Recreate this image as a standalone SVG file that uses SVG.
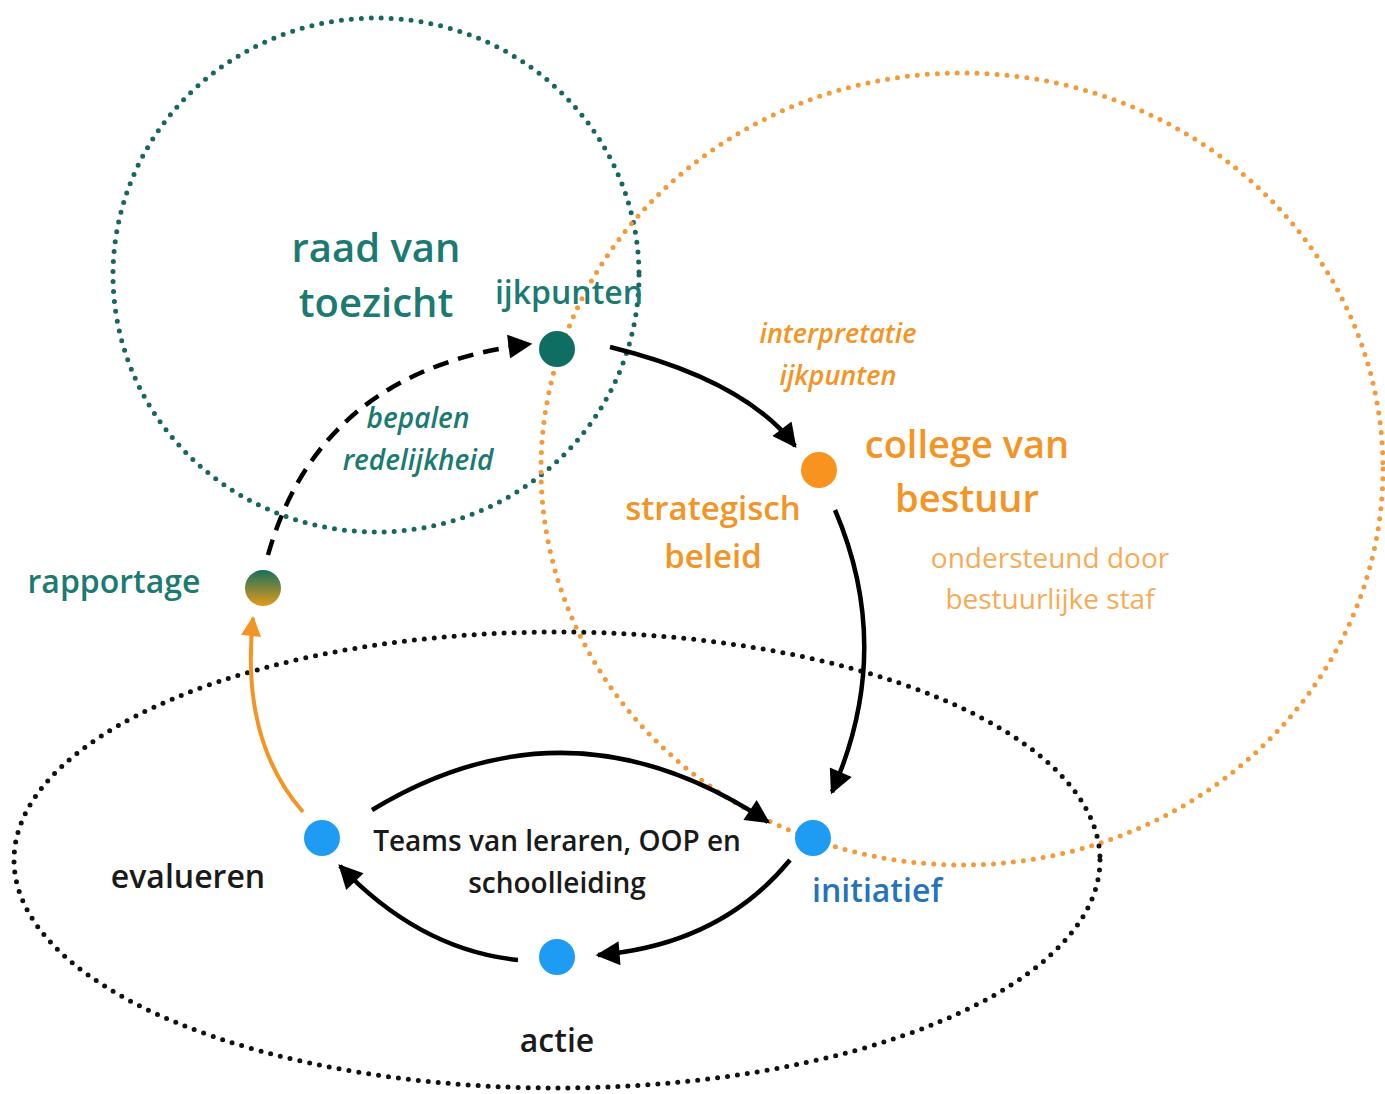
<svg xmlns="http://www.w3.org/2000/svg" width="1385" height="1094" viewBox="0 0 1385 1094">
<style>
text{font-family:"Open Sans","Noto Sans","Liberation Sans",sans-serif;font-weight:600}
.teal{fill:#1b7a71}
.org{fill:#f39424}
.lorg{fill:#f6ab55;font-weight:500}
.blk{fill:#1a1a1a}
.it{font-style:italic}
.ring{fill:none;stroke-width:5;stroke-linecap:round;stroke-dasharray:0 10}
.conn{fill:none;stroke:#000;stroke-width:4.5}
</style>
<defs>
<marker id="ah" viewBox="0 0 10 10" refX="9" refY="5" markerWidth="27" markerHeight="24" markerUnits="userSpaceOnUse" orient="auto">
<path d="M0 0 L10 5 L0 10 Z" fill="#000"/>
</marker>
<marker id="aho" viewBox="0 0 10 10" refX="9" refY="5" markerWidth="22" markerHeight="20" markerUnits="userSpaceOnUse" orient="auto">
<path d="M0 0 L10 5 L0 10 Z" fill="#f39424"/>
</marker>
<linearGradient id="grad" x1="0" y1="0" x2="0" y2="1">
<stop offset="0" stop-color="#14705f"/>
<stop offset="1" stop-color="#e69a1a"/>
</linearGradient>
</defs>
<rect width="1385" height="1094" fill="#fff"/>
<g id="regions">
<ellipse class="ring" cx="376" cy="275" rx="263" ry="257" stroke="#17665f"/>
<ellipse class="ring" cx="962" cy="469" rx="421" ry="396" stroke="#f39a3a"/>
<ellipse class="ring" cx="557" cy="860" rx="543" ry="228" stroke="#111"/>
</g>
<g id="connectors">
<path class="conn" d="M268 555 Q320 370 530 344" stroke-dasharray="16 10" stroke-width="5" marker-end="url(#ah)"/>
<path class="conn" d="M610 347 Q745 380 795 446" marker-end="url(#ah)"/>
<path class="conn" d="M835 510 Q895 650 832 792" marker-end="url(#ah)"/>
<path class="conn" d="M372 810 Q570 690 768 822" marker-end="url(#ah)"/>
<path class="conn" d="M790 860 Q720 945 598 955" marker-end="url(#ah)"/>
<path class="conn" d="M518 960 Q420 950 340 866" marker-end="url(#ah)"/>
<path fill="none" stroke="#f39424" stroke-width="4" d="M303 812 Q240 740 253 618" marker-end="url(#aho)"/>
</g>
<g id="raad-van-toezicht">
<text class="teal" x="376" y="262" font-size="40" text-anchor="middle">raad van</text>
<text class="teal" x="376" y="317" font-size="40" text-anchor="middle">toezicht</text>
</g>
<g id="ijkpunten">
<circle cx="557" cy="349" r="18" fill="#0f6e62"/>
<text class="teal" x="569" y="304" font-size="32" text-anchor="middle">ijkpunten</text>
</g>
<g id="interpretatie-label">
<text class="org it" x="838" y="343" font-size="27" text-anchor="middle" font-weight="500">interpretatie</text>
<text class="org it" x="838" y="385" font-size="27" text-anchor="middle" font-weight="500">ijkpunten</text>
</g>
<g id="college-van-bestuur">
<circle cx="819" cy="470" r="18" fill="#f7931e"/>
<text class="org" x="967" y="458" font-size="38" text-anchor="middle">college van</text>
<text class="org" x="967" y="512" font-size="38" text-anchor="middle">bestuur</text>
</g>
<g id="strategisch-beleid">
<text class="org" x="713" y="520" font-size="33" text-anchor="middle">strategisch</text>
<text class="org" x="713" y="568" font-size="33" text-anchor="middle">beleid</text>
</g>
<g id="ondersteund">
<text class="lorg" x="1050" y="568" font-size="28" text-anchor="middle">ondersteund door</text>
<text class="lorg" x="1050" y="609" font-size="28" text-anchor="middle">bestuurlijke staf</text>
</g>
<g id="bepalen-label">
<text class="teal it" x="418" y="428" font-size="28" text-anchor="middle" font-weight="500">bepalen</text>
<text class="teal it" x="418" y="470" font-size="28" text-anchor="middle" font-weight="500">redelijkheid</text>
</g>
<g id="rapportage">
<circle cx="263" cy="588" r="18" fill="url(#grad)"/>
<text class="teal" x="114" y="593" font-size="32" text-anchor="middle">rapportage</text>
</g>
<g id="evalueren">
<circle cx="322" cy="838" r="18" fill="#1e9bf2"/>
<text class="blk" x="188" y="888" font-size="32" text-anchor="middle">evalueren</text>
</g>
<g id="teams-label">
<text class="blk" x="557" y="851" font-size="28" text-anchor="middle">Teams van leraren, OOP en</text>
<text class="blk" x="557" y="893" font-size="28" text-anchor="middle">schoolleiding</text>
</g>
<g id="initiatief">
<circle cx="813" cy="838" r="18" fill="#1e9bf2"/>
<text x="877" y="902" font-size="32" text-anchor="middle" fill="#2673bd">initiatief</text>
</g>
<g id="actie">
<circle cx="557" cy="957" r="18" fill="#1e9bf2"/>
<text class="blk" x="557" y="1052" font-size="32" text-anchor="middle">actie</text>
</g>
</svg>
